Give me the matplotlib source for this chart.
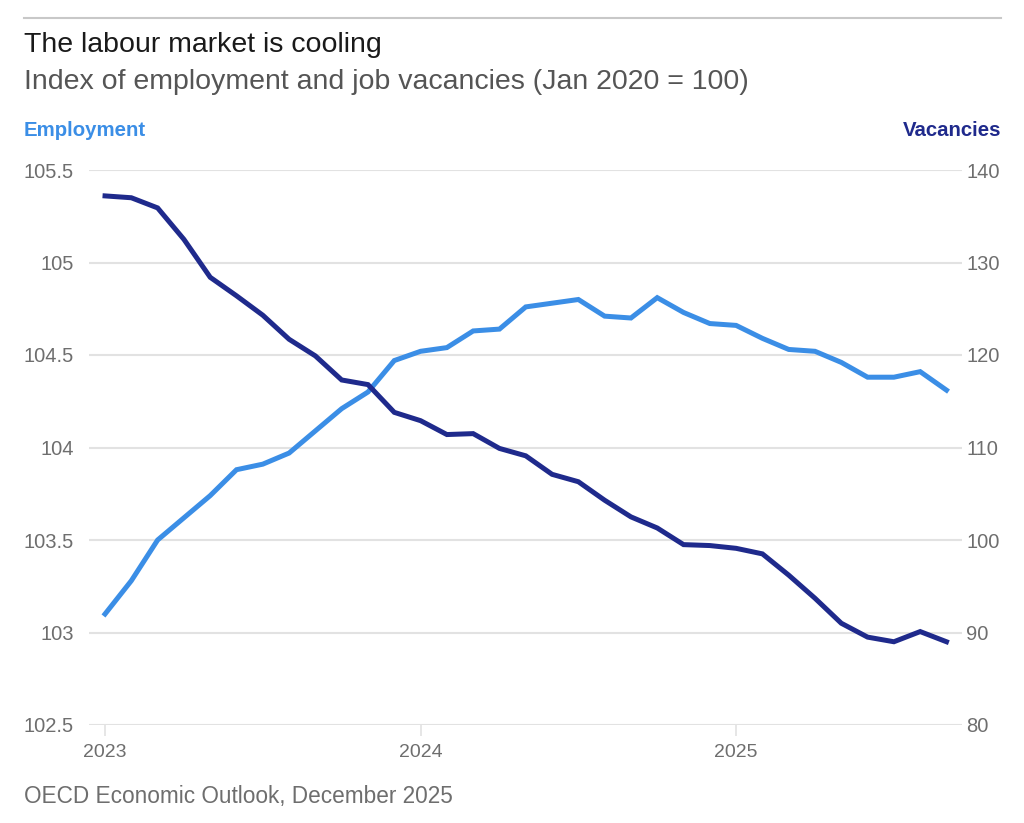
"""
Labour market chart: employment vs job vacancies index (Jan 2020 = 100)
"""

import matplotlib
matplotlib.use('Agg')
import matplotlib.pyplot as plt
from matplotlib.lines import Line2D
import numpy as np

# Data (monthly, Jan 2023 - Sep 2025)
months = ['2023-01', '2023-02', '2023-03', '2023-04', '2023-05', '2023-06',
          '2023-07', '2023-08', '2023-09', '2023-10', '2023-11', '2023-12',
          '2024-01', '2024-02', '2024-03', '2024-04', '2024-05', '2024-06',
          '2024-07', '2024-08', '2024-09', '2024-10', '2024-11', '2024-12',
          '2025-01', '2025-02', '2025-03', '2025-04', '2025-05', '2025-06',
          '2025-07', '2025-08', '2025-09']

employment = [103.10, 103.28, 103.50, 103.62, 103.74, 103.88, 103.91, 103.97,
              104.09, 104.21, 104.30, 104.47, 104.52, 104.54, 104.63, 104.64,
              104.76, 104.78, 104.80, 104.71, 104.70, 104.81, 104.73, 104.67,
              104.66, 104.59, 104.53, 104.52, 104.46, 104.38, 104.38, 104.41,
              104.31]

vacancies = [137.2, 137.0, 135.9, 132.5, 128.4, 126.4, 124.3, 121.7,
             119.9, 117.3, 116.8, 113.8, 112.9, 111.4, 111.5, 109.9,
             109.1, 107.1, 106.3, 104.3, 102.5, 101.3, 99.5, 99.4,
             99.1, 98.5, 96.2, 93.7, 91.0, 89.5, 89.0, 90.1,
             89.0]

left_ticks = [102.5, 103, 103.5, 104, 104.5, 105, 105.5]
left_labels = ['102.5', '103', '103.5', '104', '104.5', '105', '105.5']
right_ticks = [80, 90, 100, 110, 120, 130, 140]
year_labels = ['2023', '2024', '2025']

# Style
EMP_COLOR = '#3b8ee6'
VAC_COLOR = '#1f2a8c'
GRID_COLOR = '#e2e2e2'
TICK_COLOR = '#6e6e6e'
plt.rcParams['font.family'] = ['Liberation Sans', 'DejaVu Sans']

W, H = 1024, 823
fig = plt.figure(figsize=(W / 100, H / 100), dpi=100, facecolor='white')

def fx(px):
    return px / W

def fy(py):
    return 1 - py / H

# Header
fig.add_artist(Line2D([fx(24), fx(1001)], [fy(18), fy(18)], color='#c8c8c8', lw=1.5))
fig.text(fx(24), fy(45), 'The labour market is cooling', fontsize=20.5,
         color='#1a1a1a', va='center', ha='left')
fig.text(fx(24), fy(82), 'Index of employment and job vacancies (Jan 2020 = 100)',
         fontsize=20.5, color='#555555', va='center', ha='left')
fig.text(fx(24), fy(130), 'Employment', fontsize=14.7, fontweight='bold',
         color=EMP_COLOR, va='center', ha='left')
fig.text(fx(1001), fy(130), 'Vacancies', fontsize=14.7, fontweight='bold',
         color=VAC_COLOR, va='center', ha='right')
fig.text(fx(24), fy(797), 'OECD Economic Outlook, December 2025', fontsize=16.3,
         color='#6e6e6e', va='center', ha='left')

# Axes
ax = fig.add_axes([fx(89), fy(725), fx(962) - fx(89), fy(170) - fy(725)])
ax2 = ax.twinx()

x = np.arange(len(months))
ax.set_xlim(-0.61, 32.59)
ax.set_ylim(102.5, 105.5)
ax2.set_ylim(80, 140)

for t in left_ticks:
    ax.axhline(t, color=GRID_COLOR, lw=1.5, zorder=0)

ax.plot(x, employment, color=EMP_COLOR, lw=3.6, solid_joinstyle='miter', zorder=3)
ax2.plot(x, vacancies, color=VAC_COLOR, lw=3.6, solid_joinstyle='miter', zorder=3)

ax.set_yticks(left_ticks)
ax.set_yticklabels(left_labels)
ax2.set_yticks(right_ticks)
ax.set_xticks([0, 12, 24])
ax.set_xticklabels(year_labels)

ax.tick_params(axis='y', length=0, pad=11, labelsize=14.5, labelcolor=TICK_COLOR)
ax2.tick_params(axis='y', length=0, pad=3, labelsize=14.5, labelcolor=TICK_COLOR)
ax.tick_params(axis='x', length=8, width=1.2, color=GRID_COLOR, pad=6,
               labelsize=14, labelcolor=TICK_COLOR)

for a in (ax, ax2):
    for s in a.spines.values():
        s.set_visible(False)
    a.patch.set_visible(False)

fig.savefig('out.png', dpi=100, facecolor='white')
